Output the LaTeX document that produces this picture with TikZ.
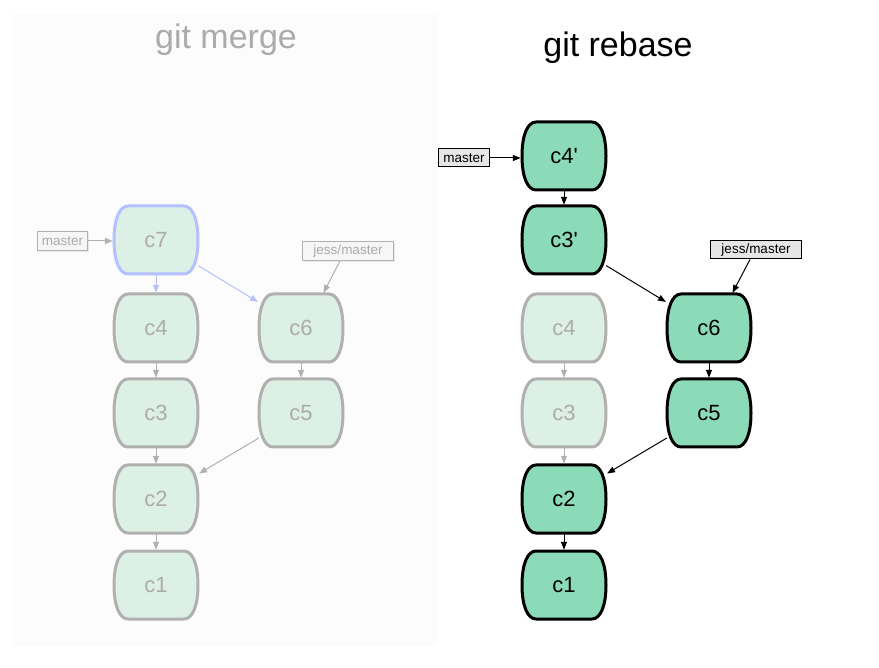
\documentclass[tikz,border=0pt]{standalone}
\usepackage{fontspec}
\setmainfont{Liberation Sans}
\newfontfamily\nomapfont{Liberation Sans}
\usetikzlibrary{arrows.meta,shadows,calc}
\definecolor{panelbg}{HTML}{FCFCFC}
\definecolor{fadefill}{HTML}{DDF0E6}
\definecolor{fadeline}{HTML}{B0B0B0}
\definecolor{fadetext}{HTML}{ABABAB}
\definecolor{blueline}{HTML}{B5C0FF}
\definecolor{solidfill}{HTML}{8BDBB9}
\definecolor{labelfill}{HTML}{E6E6E6}
\definecolor{fadelabelfill}{HTML}{F6F6F6}
\tikzset{
  fadedbox/.style={fill=fadefill, draw=fadeline, line width=3pt},
  bluebox/.style={fill=fadefill, draw=blueline, line width=3pt},
  solidbox/.style={fill=solidfill, draw=black, line width=3pt},
  ctext/.style={shape=rectangle, minimum width=84pt, minimum height=68pt, inner sep=0pt, font=\fontsize{22}{26}\selectfont},
  fadedtext/.style={ctext, text=fadetext},
  solidtext/.style={ctext, text=black},
  fadedlabel/.style={draw=fadeline, fill=fadelabelfill, text=fadetext, line width=1pt, minimum height=19pt, inner xsep=4.5pt, inner ysep=0pt, font=\fontsize{13.5}{16}\selectfont, drop shadow={shadow xshift=1pt, shadow yshift=-2pt, opacity=0.15}},
  solidlabel/.style={draw=black, fill=labelfill, text=black, line width=1pt, minimum height=18pt, inner xsep=4.5pt, inner ysep=0pt, font=\fontsize{13.5}{16}\selectfont},
  widelabel/.style={minimum width=91pt},
  fadedarrow/.style={draw=fadeline, line width=1pt, -{Triangle[length=8pt,width=6pt]}, shorten >=1pt},
  bluearrow/.style={draw=blueline, line width=1pt, -{Triangle[length=8pt,width=6pt]}, shorten >=1pt},
  solidarrow/.style={draw=black, line width=1pt, -{Triangle[length=8pt,width=6pt]}, shorten >=1pt},
  titletext/.style={anchor=base, font=\fontsize{34}{40}\selectfont}
}
\newcommand{\commit}[6]{%
  \begin{scope}[shift={(#4,#5)}]
    \path[#1] (-28,-34) -- (28,-34) .. controls (36,-34) and (42,-22) .. (42,0)
      .. controls (42,22) and (36,34) .. (28,34) -- (-28,34)
      .. controls (-36,34) and (-42,22) .. (-42,0)
      .. controls (-42,-22) and (-36,-34) .. cycle;
  \end{scope}
  \node[#2] (#3) at (#4,#5) {#6};%
}
\begin{document}
\begin{tikzpicture}[x=1pt,y=-1pt]
\useasboundingbox (0,0) rectangle (879,668);
\fill[white] (0,0) rectangle (879,668);
\fill[panelbg] (12,14) rectangle (437,646);

% titles
\node[titletext, text=fadetext] (tmerge) at (226,49) {git merge};
\node[titletext, text=black] (trebase) at (618,57) {git rebase};

% ---- git merge ----
\commit{bluebox}{fadedtext}{mc7}{156}{240}{c7}
\commit{fadedbox}{fadedtext}{mc4}{156}{328}{c4}
\commit{fadedbox}{fadedtext}{mc3}{156}{413}{c3}
\commit{fadedbox}{fadedtext}{mc2}{156}{499}{c2}
\commit{fadedbox}{fadedtext}{mc1}{156}{585}{c1}
\commit{fadedbox}{fadedtext}{mc6}{301}{328}{c6}
\commit{fadedbox}{fadedtext}{mc5}{301}{413}{c5}

\node[fadedlabel] (mmaster) at (62.5,241) {master};
\node[fadedlabel, widelabel] (mjess) at (348,251) {jess/master};

\draw[fadedarrow] (mmaster.east) -- (mmaster.east -| mc7.west);
\draw[bluearrow] (mc7) -- (mc4);
\draw[bluearrow] (mc7) -- (mc6);
\draw[fadedarrow] ($(mjess.south)+(-8,0)$) -- ($(mc6.north)+(22,0)$);
\draw[fadedarrow] (mc4) -- (mc3);
\draw[fadedarrow] (mc3) -- (mc2);
\draw[fadedarrow] (mc2) -- (mc1);
\draw[fadedarrow] (mc6) -- (mc5);
\draw[fadedarrow] (mc5) -- (mc2);

% ---- git rebase ----
\commit{solidbox}{solidtext}{rc4p}{564}{156}{c4{\nomapfont'}}
\commit{solidbox}{solidtext}{rc3p}{564}{240}{c3{\nomapfont'}}
\commit{fadedbox}{fadedtext}{rc4}{564}{328}{c4}
\commit{fadedbox}{fadedtext}{rc3}{564}{413}{c3}
\commit{solidbox}{solidtext}{rc2}{564}{499}{c2}
\commit{solidbox}{solidtext}{rc1}{564}{585}{c1}
\commit{solidbox}{solidtext}{rc6}{709}{328}{c6}
\commit{solidbox}{solidtext}{rc5}{709}{413}{c5}

\node[solidlabel] (rmaster) at (464,158) {master};
\node[solidlabel, widelabel] (rjess) at (756,250) {jess/master};

\draw[solidarrow] (rmaster.east) -- (rmaster.east -| rc4p.west);
\draw[solidarrow] (rc4p) -- (rc3p);
\draw[solidarrow] (rc3p) -- (rc6);
\draw[solidarrow] ($(rjess.south)+(-6,0)$) -- ($(rc6.north)+(23,0)$);
\draw[solidarrow] (rc6) -- (rc5);
\draw[solidarrow] (rc5) -- (rc2);
\draw[solidarrow] (rc2) -- (rc1);
\draw[fadedarrow] (rc4) -- (rc3);
\draw[fadedarrow] (rc3) -- (rc2);
\end{tikzpicture}
\end{document}
